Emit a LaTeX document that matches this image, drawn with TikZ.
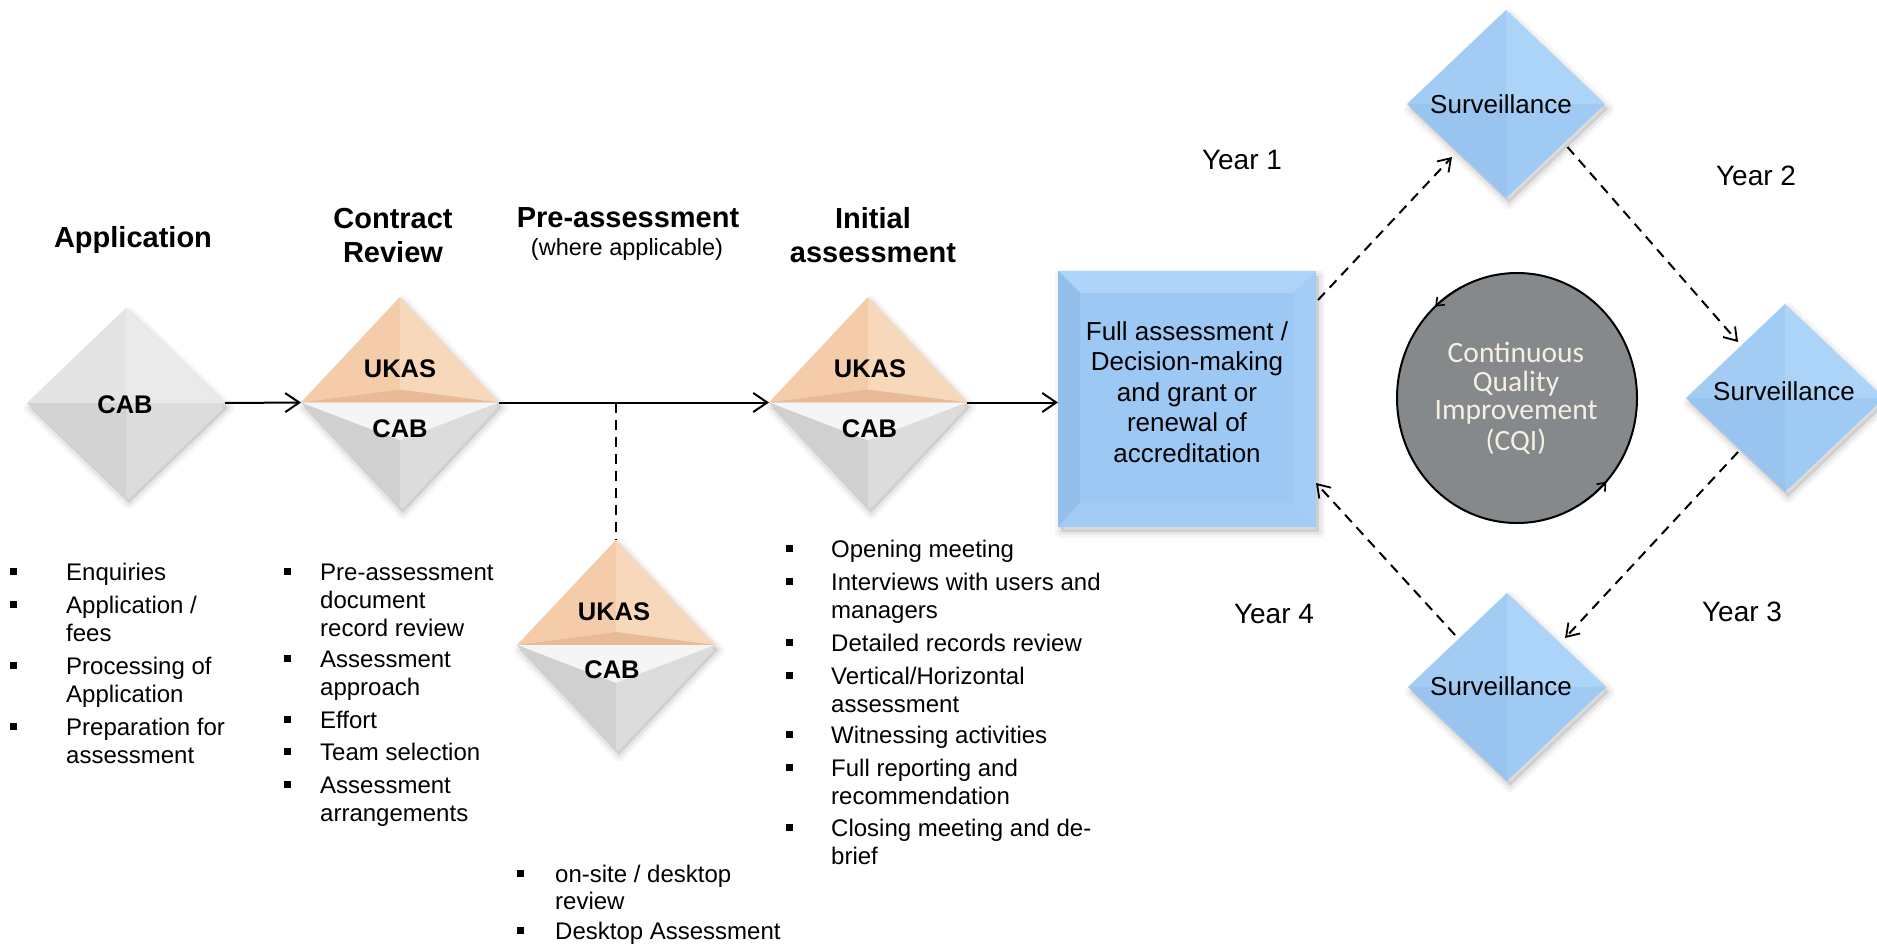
\documentclass[tikz,border=0pt]{standalone}
\usepackage{fontspec}
\setmainfont{Liberation Sans}
\newfontfamily\cqifont{Carlito}
\usetikzlibrary{arrows.meta,calc,shapes.geometric}
\definecolor{peachL}{HTML}{F5CCA9}
\definecolor{peachR}{HTML}{F8D8BB}
\definecolor{peachB}{HTML}{E8BA95}
\definecolor{grayW}{HTML}{F5F5F5}
\definecolor{grayL}{HTML}{D0D0D0}
\definecolor{grayR}{HTML}{DCDCDC}
\definecolor{cabTL}{HTML}{E3E3E3}
\definecolor{cabTR}{HTML}{EAEAEA}
\definecolor{cabBR}{HTML}{DCDCDC}
\definecolor{cabBL}{HTML}{D3D3D3}
\definecolor{blTL}{HTML}{A3CCF4}
\definecolor{blTR}{HTML}{ACD4F8}
\definecolor{blBR}{HTML}{9FCAF4}
\definecolor{blBL}{HTML}{98C4EF}
\definecolor{boxMain}{HTML}{9DC8F3}
\definecolor{boxTop}{HTML}{ADD3F8}
\definecolor{boxLeft}{HTML}{92BFEC}
\definecolor{boxRight}{HTML}{A3CDF6}
\definecolor{boxBot}{HTML}{A2CCF4}
\definecolor{cqiGray}{HTML}{86898B}
\definecolor{cqiText}{HTML}{F4EFE2}
\newcommand{\bl}{\rule[5pt]{7pt}{7pt}}
\newcommand{\bw}[1]{\makebox[#1][l]{\bl}}
\newcommand{\softshadow}[1]{%
  \begin{scope}[transform canvas={xshift=3pt,yshift=-5pt}]
    \fill[black,opacity=0.10] #1;
    \draw[black,opacity=0.04,line width=12pt,line join=round] #1;
    \draw[black,opacity=0.05,line width=6pt,line join=round] #1;
  \end{scope}}
\newcommand{\facetdiamond}[5]{%
  \fill[#2] (#1.center) -- (#1.west) -- (#1.north) -- cycle;
  \fill[#3] (#1.center) -- (#1.north) -- (#1.east) -- cycle;
  \fill[#4] (#1.center) -- (#1.east) -- (#1.south) -- cycle;
  \fill[#5] (#1.center) -- (#1.south) -- (#1.west) -- cycle;}
\newcommand{\splitdiamond}[1]{%
  \coordinate (#1-p) at ($(#1.center)+(0,-13)$);
  \coordinate (#1-q) at ($(#1.center)+(0,38)$);
  \fill[peachL] (#1.west) -- (#1.north) -- (#1-p) -- cycle;
  \fill[peachR] (#1.north) -- (#1.east) -- (#1-p) -- cycle;
  \fill[peachB] (#1.west) -- (#1.east) -- (#1-p) -- cycle;
  \fill[grayW] (#1.west) -- (#1.east) -- (#1-q) -- cycle;
  \fill[grayL] (#1.west) -- (#1-q) -- (#1.south) -- cycle;
  \fill[grayR] (#1.east) -- (#1-q) -- (#1.south) -- cycle;}
\tikzset{
  shp/.style={rectangle, inner sep=0pt, outer sep=0pt, draw=none},
  lbl/.style={inner sep=0pt, anchor=base, font=\fontsize{25.5}{30}\selectfont\bfseries},
  head/.style={inner sep=0pt, anchor=base, font=\fontsize{29}{34}\selectfont\bfseries},
  blist/.style={inner sep=0pt, anchor=base west, font=\fontsize{24}{28}\selectfont},
  yr/.style={inner sep=0pt, font=\fontsize{28}{32}\selectfont},
  surv/.style={inner sep=0pt, anchor=base, font=\fontsize{26}{30}\selectfont},
  solidarr/.style={line width=2pt, -{Straight Barb[length=14pt,width=19pt,line width=2pt]}},
  dashln/.style={line width=2pt, dash pattern=on 10pt off 7pt},
  dasharr/.style={dashln, -{Straight Barb[length=12pt,width=16pt,line width=1.8pt]}},
  circarr/.style={line width=1.8pt, -{Straight Barb[length=7pt,width=11pt,line width=1.6pt]}},
}
\begin{document}
\begin{tikzpicture}[x=1pt,y=-1pt]
\useasboundingbox (0,0) rectangle (1877,948);
\fill[white] (0,0) rectangle (1877,948);
% shape frames
\node[shp, minimum width=198pt, minimum height=190pt] (cab) at (126,403) {};
\node[shp, minimum width=198pt, minimum height=211pt] (ukas1) at (400,402.5) {};
\node[shp, minimum width=198pt, minimum height=210pt] (ukaspre) at (616,645) {};
\node[shp, minimum width=198pt, minimum height=211pt] (ukasini) at (868,402.5) {};
\node[shp, minimum width=258pt, minimum height=256pt] (box) at (1187,399) {};
\node[shp, minimum width=198pt, minimum height=188pt] (s1) at (1506,104) {};
\node[shp, minimum width=198pt, minimum height=188pt] (s2) at (1785,398) {};
\node[shp, minimum width=198pt, minimum height=188pt] (s3) at (1507,687) {};
% shadows
\foreach \n in {cab,ukas1,ukaspre,ukasini,s1,s2,s3}{
  \softshadow{(\n.west) -- (\n.north) -- (\n.east) -- (\n.south) -- cycle}}
\softshadow{(box.north west) rectangle (box.south east)}
% single CAB diamond
\facetdiamond{cab}{cabTL}{cabTR}{cabBR}{cabBL}
% split diamonds
\splitdiamond{ukas1}
\splitdiamond{ukaspre}
\splitdiamond{ukasini}
% surveillance diamonds
\facetdiamond{s1}{blTL}{blTR}{blBR}{blBL}
\facetdiamond{s2}{blTL}{blTR}{blBR}{blBL}
\facetdiamond{s3}{blTL}{blTR}{blBR}{blBL}
% box with bevel
\coordinate (bi1) at ($(box.north west)+(22,22)$);
\coordinate (bi2) at ($(box.north east)+(-22,22)$);
\coordinate (bi3) at ($(box.south east)+(-22,-24)$);
\coordinate (bi4) at ($(box.south west)+(22,-24)$);
\fill[boxMain] (box.north west) rectangle (box.south east);
\fill[boxTop] (box.north west) -- (box.north east) -- (bi2) -- (bi1) -- cycle;
\fill[boxLeft] (box.north west) -- (bi1) -- (bi4) -- (box.south west) -- cycle;
\fill[boxRight] (box.north east) -- (box.south east) -- (bi3) -- (bi2) -- cycle;
\fill[boxBot] (box.south west) -- (bi4) -- (bi3) -- (box.south east) -- cycle;
% CQI circle
\node[ellipse, minimum width=240pt, minimum height=250pt, inner sep=0pt, fill=cqiGray, draw=black, line width=2pt] (cqi) at (1517,398) {};
\draw[circarr] ($(cqi.center)+(-118:120 and 125)$) arc[start angle=-118, end angle=-133, x radius=120, y radius=125];
\draw[circarr] ($(cqi.center)+(56:120 and 125)$) arc[start angle=56, end angle=42, x radius=120, y radius=125];
\node[anchor=base, inner sep=0pt, text=cqiText, font={\cqifont\fontsize{29.5}{28.8}\selectfont}] (cqitxt) at (1516,362)
  {\begin{tabular}[t]{@{}c@{}}Continuous\\Quality\\Improvement\\(CQI)\end{tabular}};
% labels in shapes
\node[lbl] (cabt) at (125,413) {CAB};
\node[lbl] (u1t) at (400,377) {UKAS};
\node[lbl] (c1t) at (400,437) {CAB};
\node[lbl] (u2t) at (614,620) {UKAS};
\node[lbl] (c2t) at (612,678) {CAB};
\node[lbl] (u3t) at (870,377) {UKAS};
\node[lbl] (c3t) at (869.5,437) {CAB};
\node[surv] (s1t) at (1501,113) {Surveillance};
\node[surv] (s2t) at (1784,400) {Surveillance};
\node[surv] (s3t) at (1501,695) {Surveillance};
\node[anchor=base, inner sep=0pt, font=\fontsize{26}{30.5}\selectfont] (boxtxt) at (1187,340)
  {\begin{tabular}[t]{@{}c@{}}Full assessment /\\Decision-making\\and grant or\\renewal of\\accreditation\end{tabular}};
% headings
\node[head] (happ) at (133,247) {Application};
\node[head] (hcon) at (393,228) {\begin{tabular}[t]{@{}c@{}}Contract\\Review\end{tabular}};
\node[head] (hpre) at (628,227) {Pre-assessment};
\node[anchor=base, inner sep=0pt, font=\fontsize{23.5}{28}\selectfont] (hpre2) at (627,255) {(where applicable)};
\node[head] (hini) at (873,228) {\begin{tabular}[t]{@{}c@{}}Initial\\assessment\end{tabular}};
% years
\node[yr] (y1) at (1242,160) {Year 1};
\node[yr] (y2) at (1756,176) {Year 2};
\node[yr] (y3) at (1742,612) {Year 3};
\node[yr] (y4) at (1274,614) {Year 4};
% bullet lists
\node[blist] (l1) at (10,580) {\begin{tabular}[t]{@{}l@{}l@{}}
\bw{56pt} & Enquiries\\[5pt]
\bw{56pt} & Application /\\
 & fees\\[5pt]
\bw{56pt} & Processing of\\
 & Application\\[5pt]
\bw{56pt} & Preparation for\\
 & assessment
\end{tabular}};
\node[blist] (l2) at (284,580) {\begin{tabular}[t]{@{}l@{}l@{}}
\bw{36pt} & Pre-assessment\\
 & document\\
 & record review\\[3pt]
\bw{36pt} & Assessment\\
 & approach\\[5pt]
\bw{36pt} & Effort\\[4pt]
\bw{36pt} & Team selection\\[5pt]
\bw{36pt} & Assessment\\
 & arrangements
\end{tabular}};
\node[blist] (l3) at (786,557) {\begin{tabular}[t]{@{}l@{}l@{}}
\bw{45pt} & Opening meeting\\[5pt]
\bw{45pt} & Interviews with users and\\
 & managers\\[5pt]
\bw{45pt} & Detailed records review\\[5pt]
\bw{45pt} & Vertical/Horizontal\\
 & assessment\\[3pt]
\bw{45pt} & Witnessing activities\\[5pt]
\bw{45pt} & Full reporting and\\
 & recommendation\\[4pt]
\bw{45pt} & Closing meeting and de-\\
 & brief
\end{tabular}};
\node[blist, font=\fontsize{24}{27}\selectfont] (l4) at (517,882) {\begin{tabular}[t]{@{}l@{}l@{}}
\bw{38pt} & on-site / desktop\\
 & review\\[3pt]
\bw{38pt} & Desktop Assessment
\end{tabular}};
% connectors
\draw[solidarr] (cab.east) -- (ukas1.west);
\draw[solidarr] (ukas1.east) -- (ukasini.west);
\draw[dashln] (ukas1.east -| ukaspre.north) -- (ukaspre.north);
\draw[solidarr] (ukasini.east) -- (ukasini.east -| box.west);
\draw[dasharr] ($(box.north east)+(2,29)$) -- ($(s1.south)!0.5!(s1.west)+(-4.5,6)$);
\draw[dasharr] ($(s1.south)!0.5!(s1.east)+(12,-4)$) -- ($(s2.north)!0.5!(s2.west)+(2.5,-9)$);
\draw[dasharr] ($(s2.south)!0.5!(s2.west)+(2.5,7)$) -- ($(s3.north)!0.5!(s3.east)+(8.5,-2)$);
\draw[dasharr] ($(s3.north)!0.5!(s3.west)+(-2.5,-5)$) -- ($(box.south east)+(0,-44)$);
\end{tikzpicture}
\end{document}
